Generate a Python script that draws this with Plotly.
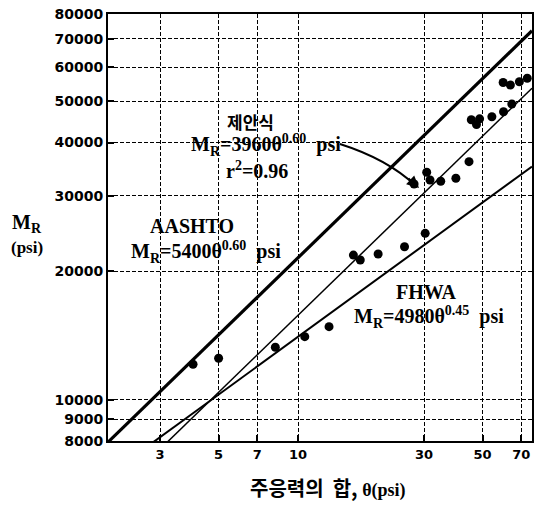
import numpy as np
import plotly.graph_objects as go

# Measured resilient modulus vs. bulk stress (sum of principal stresses)
theta = [4.0, 5.0, 8.2, 10.6, 13.1, 16.2, 17.2, 20.1, 25.3, 30.3,
         27.5, 30.7, 31.6, 34.7, 39.6, 44.4,
         45.3, 47.4, 48.7, 54.2, 60.0, 64.5,
         59.8, 63.7, 68.9, 73.8]
mr = [12100, 12500, 13260, 14040, 14820, 21800, 21230, 21930, 22810, 24510,
      31990, 34070, 32680, 32460, 32990, 36080,
      45240, 44080, 45460, 45980, 47230, 49230,
      55290, 54550, 55520, 56570]

# Model coefficients: M_R = k1 * theta^k2, with drawn line width
models = {
    "AASHTO": (5400, 0.60, 3.2),
    "제안식": (3960, 0.60, 1.5),
    "FHWA": (4980, 0.45, 2.0),
}

x_ticks = [3, 5, 7, 10, 30, 50, 70]
y_ticks = [8000, 9000, 10000, 20000, 30000, 40000, 50000, 60000, 70000, 80000]

x_range_log = [0.28, 1.886]
y_range_log = [np.log10(8000), np.log10(80000)]

fig = go.Figure()

th = np.logspace(x_range_log[0], x_range_log[1], 200)
for name, (k1, k2, w) in models.items():
    fig.add_trace(go.Scatter(x=th, y=k1 * th ** k2, mode="lines",
                             line=dict(color="black", width=w),
                             name=name, showlegend=False, hoverinfo="skip"))

fig.add_trace(go.Scatter(x=theta, y=mr, mode="markers",
                         marker=dict(color="black", size=9),
                         showlegend=False))

serif = dict(family="Liberation Serif", size=20, color="black", weight="bold")
kfont = dict(family="Noto Sans CJK KR", size=17, color="black", weight="bold")

ann = []
# Proposed model label
ann.append(dict(x=0.335, y=0.748, xref="paper", yref="paper", text="제안식",
                showarrow=False, font=kfont, xanchor="center", yanchor="middle"))
ann.append(dict(x=0.19, y=0.694, xref="paper", yref="paper",
                text="M<sub>R</sub>=3960θ<sup>0.60</sup>\u00a0\u00a0psi",
                showarrow=False, font=serif, xanchor="left", yanchor="middle"))
ann.append(dict(x=0.352, y=0.634, xref="paper", yref="paper",
                text="r<sup>2</sup>=0.96",
                showarrow=False, font=serif, xanchor="center", yanchor="middle"))
# AASHTO label
ann.append(dict(x=0.198, y=0.504, xref="paper", yref="paper", text="AASHTO",
                showarrow=False, font=serif, xanchor="center", yanchor="middle"))
ann.append(dict(x=0.05, y=0.443, xref="paper", yref="paper",
                text="M<sub>R</sub>=5400θ<sup>0.60</sup>\u00a0\u00a0psi",
                showarrow=False, font=serif, xanchor="left", yanchor="middle"))
# FHWA label
ann.append(dict(x=0.75, y=0.349, xref="paper", yref="paper", text="FHWA",
                showarrow=False, font=serif, xanchor="center", yanchor="middle"))
ann.append(dict(x=0.575, y=0.290, xref="paper", yref="paper",
                text="M<sub>R</sub>=4980θ<sup>0.45</sup>\u00a0\u00a0psi",
                showarrow=False, font=serif, xanchor="left", yanchor="middle"))
# Arrow head pointing to the proposed-model line
ann.append(dict(x=0.7335, y=0.5925, xref="paper", yref="paper", text="",
                showarrow=True, arrowhead=2, arrowsize=1.2, arrowwidth=2,
                arrowcolor="black", ax=-12, ay=-11))
# Y axis title
ann.append(dict(x=-0.19, y=0.510, xref="paper", yref="paper",
                text="M<sub>R</sub>", showarrow=False, font=serif,
                xanchor="center", yanchor="middle"))
ann.append(dict(x=-0.19, y=0.452, xref="paper", yref="paper",
                text="(psi)", showarrow=False,
                font=dict(family="Liberation Serif", size=17, color="black", weight="bold"),
                xanchor="center", yanchor="middle"))
# X axis title
ann.append(dict(x=0.52, y=-0.110, xref="paper", yref="paper",
                text="<span style='font-family:Noto Sans CJK KR;font-size:20px'>주응력의\u00a0\u00a0합,</span>"
                     "\u00a0<span style='font-family:Liberation Serif;font-size:18px'>θ(psi)</span>",
                showarrow=False, font=dict(family="Noto Sans CJK KR", size=20,
                                           color="black", weight="bold"),
                xanchor="center", yanchor="middle"))

# Curved leader from the label to the line
shapes = [dict(type="path", xref="paper", yref="paper",
               path="M 0.547,0.6956 Q 0.660,0.660 0.7264,0.5972",
               line=dict(color="black", width=2))]

axis_common = dict(
    showgrid=True, gridcolor="black", gridwidth=1.2, griddash="4px,2px",
    showline=True, linecolor="black", linewidth=2, mirror=True,
    ticks="inside", ticklen=6, tickcolor="black", tickwidth=1.5,
    zeroline=False,
    tickfont=dict(family="DejaVu Sans", size=13, color="black", weight="bold"),
)

fig.update_xaxes(type="log", range=x_range_log, tickmode="array", tickvals=x_ticks,
                 ticktext=[str(v) for v in x_ticks], **axis_common)
fig.update_yaxes(type="log", range=y_range_log, tickmode="array", tickvals=y_ticks,
                 ticktext=[str(v) for v in y_ticks], **axis_common)
fig.update_yaxes(tickfont=dict(family="DejaVu Sans", size=14, color="black", weight="bold"))

fig.update_layout(
    template="none",
    width=535, height=505,
    margin=dict(l=108, r=3, t=14, b=64),
    paper_bgcolor="white", plot_bgcolor="white",
    annotations=ann, shapes=shapes, showlegend=False,
)

fig.write_html("out.html")
